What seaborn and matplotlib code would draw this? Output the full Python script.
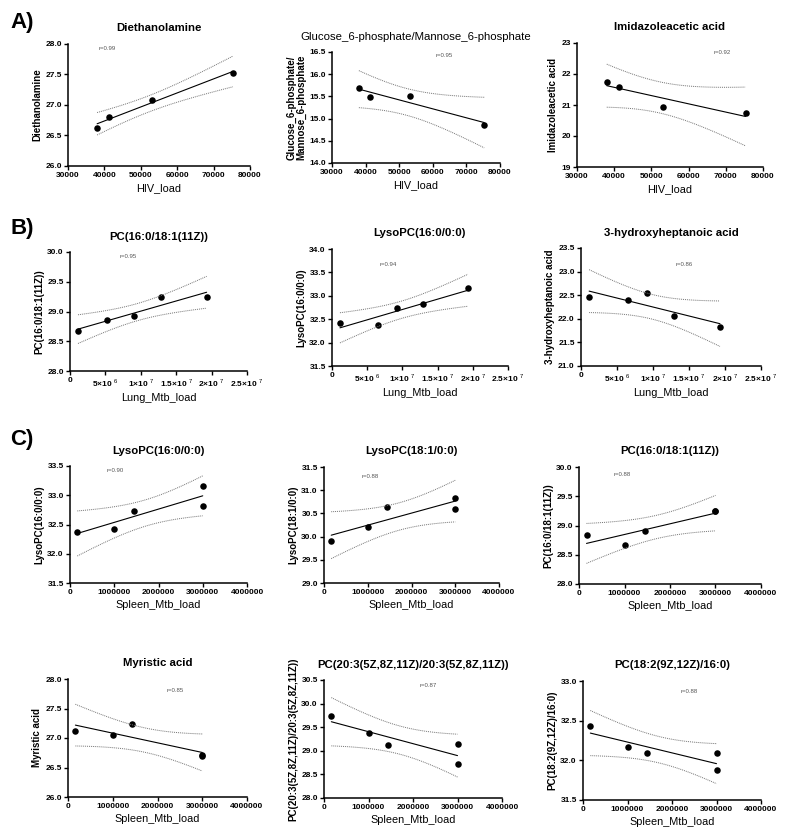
import numpy as np
import matplotlib
matplotlib.use("Agg")
import matplotlib.pyplot as plt
import seaborn as sns

# ------------------------------------------
# values
# ------------------------------------------
hiv_load = [38000, 41300, 53100, 75300]
diethanolamine = [26.63, 26.81, 27.08, 27.53]
g6p_m6p = [15.68, 15.48, 15.51, 14.86]
imidazoleacetic = [21.75, 21.58, 20.94, 20.74]

lung_load_pc = [1.13e6, 5.2e6, 9.1e6, 12.9e6, 19.3e6]
lung_load = [1.13e6, 6.56e6, 9.2e6, 12.97e6, 19.3e6]
pc_16_18_lung = [28.67, 28.86, 28.92, 29.25, 29.25]
lysopc_16_lung = [32.42, 32.37, 32.73, 32.82, 33.16]
hydroxyheptanoic = [22.46, 22.39, 22.55, 22.05, 21.83]

spleen_load = [0.165e6, 1.0e6, 1.44e6, 3.0e6, 3.0e6]
lysopc_16_spleen = [32.37, 32.43, 32.73, 33.15, 32.82]
lysopc_18_spleen = [29.91, 30.20, 30.64, 30.83, 30.59]
pc_16_18_spleen = [28.84, 28.66, 28.90, 29.25, 29.24]
myristic = [27.12, 27.05, 27.23, 26.72, 26.70]
pc_20_3 = [29.73, 29.37, 29.13, 29.15, 28.73]
pc_18_2 = [32.43, 32.17, 32.09, 32.09, 31.88]

# tick values / labels
hiv_ticks = [30000, 40000, 50000, 60000, 70000, 80000]
hiv_ticklabels = ["30000", "40000", "50000", "60000", "70000", "80000"]
lung_ticks = [0, 5e6, 1e7, 1.5e7, 2e7, 2.5e7]
lung_ticklabels = ["0", "5×10 $^{6}$", "1×10 $^{7}$", "1.5×10 $^{7}$",
                   "2×10 $^{7}$", "2.5×10 $^{7}$"]
spleen_ticks = [0, 1e6, 2e6, 3e6, 4e6]
spleen_ticklabels = ["0", "1000000", "2000000", "3000000", "4000000"]

# two-sided 95% t critical values by degrees of freedom
T_CRIT = {2: 4.303, 3: 3.182, 4: 2.776}

# (title, ylabel, xlabel, x, y, ylim, ystep, xticks, xticklabels, r text, r pos)
panels = [
    ("Diethanolamine", "Diethanolamine", "HIV_load", hiv_load, diethanolamine,
     (26, 28), 0.5, hiv_ticks, hiv_ticklabels, "r=0.99", (38300, 27.92)),
    ("Glucose_6-phosphate/Mannose_6-phosphate", "Glucose_6-phosphate/\nMannose_6-phosphate",
     "HIV_load", hiv_load, g6p_m6p,
     (14, 16.5), 0.5, hiv_ticks, hiv_ticklabels, "r=0.95", (60800, 16.42)),
    ("Imidazoleacetic acid", "Imidazoleacetic acid", "HIV_load", hiv_load, imidazoleacetic,
     (19, 23), 1, hiv_ticks, hiv_ticklabels, "r=0.92", (66700, 22.69)),
    ("PC(16:0/18:1(11Z))", "PC(16:0/18:1(11Z))", "Lung_Mtb_load", lung_load_pc, pc_16_18_lung,
     (28, 30), 0.5, lung_ticks, lung_ticklabels, "r=0.95", (7.0e6, 29.92)),
    ("LysoPC(16:0/0:0)", "LysoPC(16:0/0:0)", "Lung_Mtb_load", lung_load, lysopc_16_lung,
     (31.5, 34), 0.5, lung_ticks, lung_ticklabels, "r=0.94", (6.8e6, 33.67)),
    ("3-hydroxyheptanoic acid", "3-hydroxyheptanoic acid", "Lung_Mtb_load", lung_load,
     hydroxyheptanoic,
     (21, 23.5), 0.5, lung_ticks, lung_ticklabels, "r=0.86", (13.1e6, 23.15)),
    ("LysoPC(16:0/0:0)", "LysoPC(16:0/0:0)", "Spleen_Mtb_load", spleen_load, lysopc_16_spleen,
     (31.5, 33.5), 0.5, spleen_ticks, spleen_ticklabels, "r=0.90", (0.82e6, 33.43)),
    ("LysoPC(18:1/0:0)", "LysoPC(18:1/0:0)", "Spleen_Mtb_load", spleen_load, lysopc_18_spleen,
     (29, 31.5), 0.5, spleen_ticks, spleen_ticklabels, "r=0.88", (0.85e6, 31.3)),
    ("PC(16:0/18:1(11Z))", "PC(16:0/18:1(11Z))", "Spleen_Mtb_load", spleen_load, pc_16_18_spleen,
     (28, 30), 0.5, spleen_ticks, spleen_ticklabels, "r=0.88", (0.75e6, 29.88)),
    ("Myristic acid", "Myristic acid", "Spleen_Mtb_load", spleen_load, myristic,
     (26, 28), 0.5, spleen_ticks, spleen_ticklabels, "r=0.85", (2.2e6, 27.8)),
    ("PC(20:3(5Z,8Z,11Z)/20:3(5Z,8Z,11Z))", "PC(20:3(5Z,8Z,11Z)/20:3(5Z,8Z,11Z))",
     "Spleen_Mtb_load", spleen_load, pc_20_3,
     (28, 30.5), 0.5, spleen_ticks, spleen_ticklabels, "r=0.87", (2.15e6, 30.38)),
    ("PC(18:2(9Z,12Z)/16:0)", "PC(18:2(9Z,12Z)/16:0)", "Spleen_Mtb_load", spleen_load, pc_18_2,
     (31.5, 33), 0.5, spleen_ticks, spleen_ticklabels, "r=0.88", (2.2e6, 32.87)),
]

# axes boxes in pixels: left, right, top, bottom
boxes = [
    (68, 250, 44, 166), (332, 500, 52, 163), (577, 763, 43, 167),
    (70, 247, 252, 371), (332, 508, 249, 366), (581, 761, 248, 366),
    (70, 247, 466, 583), (324, 499, 467, 583), (579, 761, 467, 584),
    (68, 247, 679, 797), (324, 502, 680, 798), (583, 761, 681, 800),
]

# ------------------------------------------
# style
# ------------------------------------------
sns.set_style("ticks")
plt.rcParams["font.family"] = ["Liberation Sans", "DejaVu Sans"]
plt.rcParams["mathtext.fontset"] = "custom"
plt.rcParams["mathtext.rm"] = "Liberation Sans"
plt.rcParams["mathtext.bf"] = "Liberation Sans:bold"
for key in ("text.color", "axes.labelcolor", "axes.edgecolor",
            "xtick.color", "ytick.color"):
    plt.rcParams[key] = "black"

W, H = 788, 840
fig = plt.figure(figsize=(W / 100, H / 100), dpi=100)


def ci_band(ax, x, y):
    x = np.asarray(x, float)
    y = np.asarray(y, float)
    n = len(x)
    b, a = np.polyfit(x, y, 1)
    s = np.sqrt(np.sum((y - (a + b * x)) ** 2) / (n - 2))
    xs = np.linspace(x.min(), x.max(), 100)
    se = s * np.sqrt(1 / n + (xs - x.mean()) ** 2 / np.sum((x - x.mean()) ** 2))
    fit = a + b * xs
    for sign in (1, -1):
        ax.plot(xs, fit + sign * T_CRIT[n - 2] * se, ls=(0, (1, 1)),
                color="0.45", lw=0.7)


for i, (p, box) in enumerate(zip(panels, boxes)):
    title, ylabel, xlabel, x, y, ylim, ystep, xt, xtl, rtxt, rpos = p
    l, r, t, b = box
    ax = fig.add_axes([l / W, 1 - b / H, (r - l) / W, (b - t) / H])

    sns.regplot(x=x, y=y, ax=ax, ci=None, truncate=True,
                scatter_kws=dict(s=22, color="black", linewidths=0, alpha=1),
                line_kws=dict(color="black", lw=0.8))
    ci_band(ax, x, y)

    ax.set_xlim(xt[0], xt[-1])
    ax.set_ylim(*ylim)
    ax.set_xticks(xt)
    ax.set_xticklabels(xtl)
    yt = np.arange(ylim[0], ylim[1] + 1e-9, ystep)
    ax.set_yticks(yt)
    if ystep >= 1:
        ax.set_yticklabels([f"{v:.0f}" for v in yt])
    else:
        ax.set_yticklabels([f"{v:.1f}" for v in yt])

    sns.despine(ax=ax)
    for sp in ("left", "bottom"):
        ax.spines[sp].set_linewidth(1.1)
    ax.tick_params(width=1, length=3, labelsize=6, pad=1.5)
    for lbl in ax.get_xticklabels() + ax.get_yticklabels():
        lbl.set_fontweight("bold")

    ax.set_title(title, fontsize=8.2, fontweight="normal" if i == 1 else "bold", pad=9)
    ax.set_xlabel(xlabel, fontsize=7.8, labelpad=3)
    ax.set_ylabel(ylabel, fontsize=7, fontweight="bold", labelpad=2,
                  linespacing=1.0)
    ax.text(rpos[0], rpos[1], rtxt, fontsize=4.3, color="#555555", va="center")

# panel letters
fig.text(10 / W, 1 - 12 / H, "A)", fontsize=16, fontweight="bold", va="top")
fig.text(10 / W, 1 - 218 / H, "B)", fontsize=16, fontweight="bold", va="top")
fig.text(10 / W, 1 - 429 / H, "C)", fontsize=16, fontweight="bold", va="top")

fig.savefig("out.png", dpi=100, facecolor="white")
